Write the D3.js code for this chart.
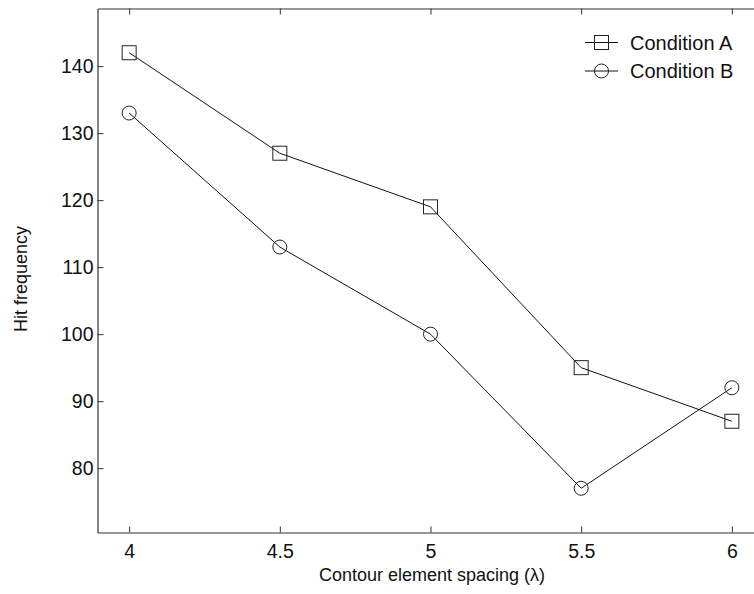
<!DOCTYPE html>
<html>
<head>
<meta charset="utf-8">
<script src="https://cdn.jsdelivr.net/npm/d3@7"></script>
<style>
  html, body { margin: 0; padding: 0; background: #fff; }
  svg { display: block; font-family: "Liberation Sans", Arial, sans-serif; }
</style>
</head>
<body>
<div class="chart-container"></div>
<script>
const width = 754;
const height = 594;

// Data
const spacing = [4, 4.5, 5, 5.5, 6];
const conditionA = [142, 127, 119, 95, 87];
const conditionB = [133, 113, 100, 77, 92];
const seriesNames = ['Condition A', 'Condition B'];
const yTicks = [80, 90, 100, 110, 120, 130, 140];

// Plot box (right edge runs past the window, as in the reference)
const box = {left: 97.5, top: 8.5, right: 763.5, bottom: 532.5};

const x = d3.scaleLinear()
  .domain([3.895, 6.105])
  .range([box.left, box.right]);

const y = d3.scaleLinear()
  .domain([70.4, 148.6])
  .range([box.bottom, box.top]);

const svg = d3.select('.chart-container')
  .append('svg')
  .attr('width', width)
  .attr('height', height);

const axisColor = '#333';
const fmt = d3.format('~g');

// Axes with inward ticks
const bottomAxis = svg.append('g')
  .attr('transform', `translate(0,${box.bottom})`)
  .call(d3.axisBottom(x).tickValues(spacing).tickFormat(fmt)
    .tickSizeInner(-6).tickSizeOuter(0).tickPadding(12));

const topAxis = svg.append('g')
  .attr('transform', `translate(0,${box.top})`)
  .call(d3.axisTop(x).tickValues(spacing).tickFormat('')
    .tickSizeInner(-6).tickSizeOuter(0));

const leftAxis = svg.append('g')
  .attr('transform', `translate(${box.left},0)`)
  .call(d3.axisLeft(y).tickValues(yTicks).tickFormat(fmt)
    .tickSizeInner(-6).tickSizeOuter(0).tickPadding(4));

[bottomAxis, topAxis, leftAxis].forEach(g => {
  g.select('.domain').attr('stroke', axisColor).attr('stroke-width', 1.2);
  g.selectAll('.tick line').attr('stroke', axisColor);
  g.selectAll('.tick text')
    .attr('fill', '#111')
    .attr('font-size', 19.5)
    .attr('font-family', '"Liberation Sans", Arial, sans-serif');
});

// Axis titles
svg.append('text')
  .attr('x', 432)
  .attr('y', 581)
  .attr('text-anchor', 'middle')
  .attr('font-size', 18)
  .attr('fill', '#111')
  .text('Contour element spacing (λ)');

svg.append('text')
  .attr('transform', 'translate(27,279) rotate(-90)')
  .attr('text-anchor', 'middle')
  .attr('font-size', 18)
  .attr('fill', '#111')
  .text('Hit frequency');

// Series
const series = [
  {name: seriesNames[0], values: conditionA, marker: 'square'},
  {name: seriesNames[1], values: conditionB, marker: 'circle'}
];

const line = d3.line()
  .x((d, i) => x(spacing[i]))
  .y(d => y(d));

function drawMarker(g, type, cx, cy) {
  if (type === 'square') {
    g.append('rect')
      .attr('x', cx - 7)
      .attr('y', cy - 7)
      .attr('width', 14)
      .attr('height', 14)
      .attr('fill', 'none')
      .attr('stroke', '#222')
      .attr('stroke-width', 1);
  } else {
    g.append('circle')
      .attr('cx', cx)
      .attr('cy', cy)
      .attr('r', 7)
      .attr('fill', 'none')
      .attr('stroke', '#222')
      .attr('stroke-width', 1);
  }
}

series.forEach(s => {
  const g = svg.append('g');
  g.append('path')
    .datum(s.values)
    .attr('d', line)
    .attr('fill', 'none')
    .attr('stroke', '#111')
    .attr('stroke-width', 1);
  s.values.forEach((v, i) => drawMarker(g, s.marker, x(spacing[i]), y(v)));
});

// Legend
series.forEach((s, i) => {
  const ly = 42.5 + i * 28.5;
  const g = svg.append('g');
  g.append('line')
    .attr('x1', 585).attr('x2', 618)
    .attr('y1', ly).attr('y2', ly)
    .attr('stroke', '#111')
    .attr('stroke-width', 1);
  drawMarker(g, s.marker, 601.5, ly);
  g.append('text')
    .attr('x', 630)
    .attr('y', ly + 7)
    .attr('font-size', 20)
    .attr('fill', '#111')
    .text(s.name);
});
</script>
</body>
</html>
